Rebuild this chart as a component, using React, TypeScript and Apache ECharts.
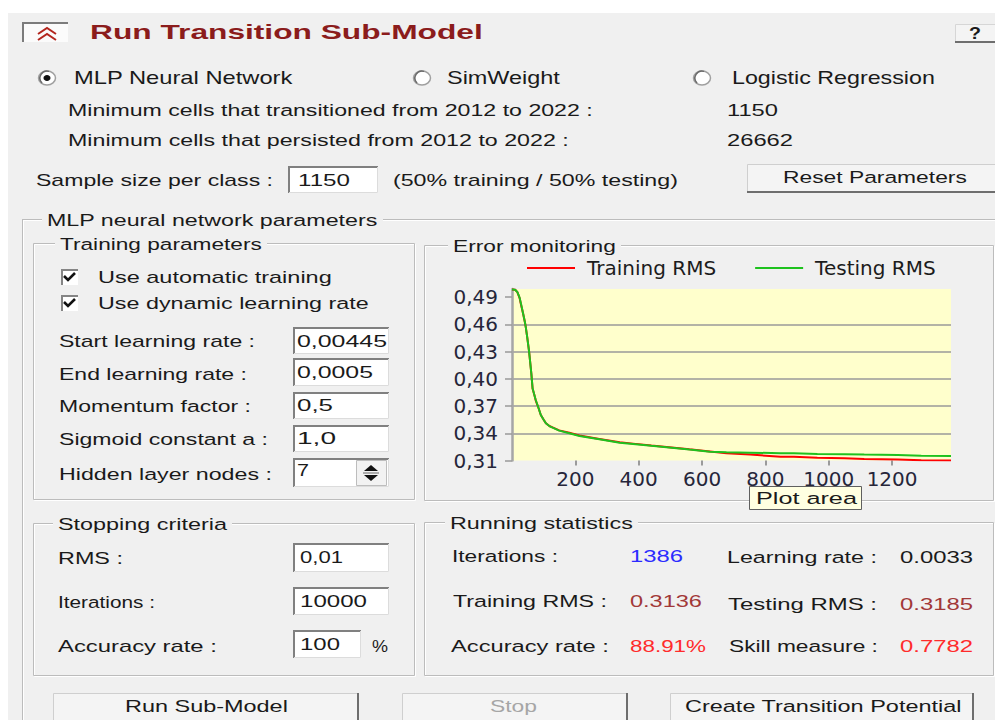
import React, { useEffect, useRef } from 'react';
import * as echarts from 'echarts';

// ---- chart data ----
const iterations = [0, 10, 17, 24, 28, 35, 41, 43, 48, 54, 61, 65, 70, 75, 84, 91, 100, 107, 118, 128, 149, 181, 213, 276, 340, 382, 440, 488, 560, 625, 677, 752, 848, 890, 964, 1050, 1112, 1218, 1292, 1386];
const trainingRMS = [0.4985, 0.4982, 0.4955, 0.489, 0.4825, 0.472, 0.462, 0.458, 0.446, 0.43, 0.406, 0.389, 0.383, 0.376, 0.3676, 0.3602, 0.355, 0.351, 0.348, 0.3465, 0.3432, 0.3405, 0.3375, 0.3338, 0.33, 0.3286, 0.3266, 0.325, 0.3223, 0.3199, 0.3179, 0.3165, 0.3142, 0.314, 0.3131, 0.3125, 0.3117, 0.3112, 0.3102, 0.3101];
const testingRMS = [0.4985, 0.4982, 0.4955, 0.4895, 0.4834, 0.472, 0.462, 0.458, 0.446, 0.43, 0.406, 0.3896, 0.383, 0.3767, 0.3676, 0.3602, 0.355, 0.351, 0.348, 0.3462, 0.3429, 0.34, 0.337, 0.3334, 0.3296, 0.3282, 0.3262, 0.3246, 0.322, 0.3197, 0.319, 0.3186, 0.3181, 0.3179, 0.3172, 0.3168, 0.3165, 0.3161, 0.3152, 0.315];
const seriesNames = ['Training RMS', 'Testing RMS'];
const seriesColors = ['#ff0000', '#1ec21e'];
const yTicks = [0.31, 0.34, 0.37, 0.4, 0.43, 0.46, 0.49];
const xTicks = [200, 400, 600, 800, 1000, 1200];
const xMax = 1386;
const yMin = 0.31;
const yMax = 0.499;

const BG = '#f0f0f0';
const UI_FONT = 'Liberation Sans';

let measureCtx: CanvasRenderingContext2D | null = null;
function measure(text: string, size: number, weight: string) {
  if (!measureCtx) measureCtx = document.createElement('canvas').getContext('2d');
  measureCtx!.font = `${weight} ${size}px "${UI_FONT}"`;
  return measureCtx!.measureText(text).width || 1;
}

type LOpt = { size?: number; color?: string; weight?: string; z?: number };
function label(text: string, x1: number, x2: number, cy: number, o: LOpt = {}) {
  const size = o.size ?? 17;
  const weight = o.weight ?? 'normal';
  const w = measure(text, size, weight);
  return {
    type: 'text',
    x: x1,
    y: cy,
    scaleX: (x2 - x1) / w,
    z: o.z ?? 5,
    silent: true,
    style: {
      text,
      fill: o.color ?? '#1a1a1a',
      fontSize: size,
      fontFamily: UI_FONT,
      fontWeight: weight,
      align: 'left',
      verticalAlign: 'middle',
      textAlign: 'left',
      textVerticalAlign: 'middle',
    },
  };
}

function rect(x: number, y: number, w: number, h: number, style: any, z = 0) {
  return { type: 'rect', shape: { x, y, width: w, height: h }, style, z, silent: true };
}
function line(x1: number, y1: number, x2: number, y2: number, stroke: string, lineWidth = 1, z = 1) {
  return { type: 'line', shape: { x1, y1, x2, y2 }, style: { stroke, lineWidth }, z, silent: true };
}
function poly(points: number[][], stroke: string, lineWidth = 1, z = 1) {
  return { type: 'polyline', shape: { points }, style: { stroke, lineWidth, fill: 'none' }, z, silent: true };
}

function groupBox(x1: number, y1: number, x2: number, y2: number, title: string, tx1: number, tx2: number) {
  return [
    rect(x1 + 1.5, y1 + 1.5, x2 - x1, y2 - y1, { fill: 'none', stroke: '#ffffff', lineWidth: 1 }, -6),
    rect(x1 + 0.5, y1 + 0.5, x2 - x1, y2 - y1, { fill: 'none', stroke: '#bcbcbc', lineWidth: 1 }, -5),
    rect(tx1 - 5, y1 - 10, tx2 - tx1 + 10, 20, { fill: BG }, -4),
    label(title, tx1, tx2, y1 + 1),
  ];
}

function inputBox(x1: number, y1: number, x2: number, y2: number) {
  return [
    rect(x1, y1, x2 - x1, y2 - y1, { fill: '#ffffff' }, 1),
    poly([[x1 + 1, y2], [x1 + 1, y1 + 1], [x2, y1 + 1]], '#808080', 2, 2),
    poly([[x1 + 1, y2 - 0.5], [x2 - 0.5, y2 - 0.5], [x2 - 0.5, y1 + 1]], '#dcdcdc', 1, 2),
  ];
}

function button(x1: number, y1: number, x2: number, y2: number, text: string, tx1: number, tx2: number, cy: number, color = '#1a1a1a') {
  return [
    rect(x1 + 0.5, y1 + 0.5, x2 - x1, y2 - y1, { fill: '#f4f4f4', stroke: '#cfcfcf', lineWidth: 1 }, 1),
    line(x2, y1, x2, y2, '#6e6e6e', 2, 2),
    line(x1, y2, x2, y2, '#6e6e6e', 2, 2),
    label(text, tx1, tx2, cy, { color }),
  ];
}

function checkbox(x: number, y: number) {
  return [
    rect(x, y, 17, 16, { fill: '#ffffff' }, 1),
    poly([[x + 1, y + 16], [x + 1, y + 1], [x + 17, y + 1]], '#858585', 2, 2),
    poly([[x + 3, y + 7], [x + 7, y + 11], [x + 14, y + 4]], '#111111', 2.6, 3),
  ];
}

function radio(cx: number, cy: number, selected: boolean) {
  const els: any[] = [
    { type: 'ellipse', shape: { cx, cy, rx: 8.5, ry: 7 }, style: { fill: '#ffffff', stroke: '#a0a0a0', lineWidth: 1.5 }, z: 1, silent: true },
    { type: 'arc', shape: { cx, cy, r: 7, startAngle: Math.PI * 0.75, endAngle: Math.PI * 1.6 }, style: { stroke: '#6a6a6a', lineWidth: 1.5, fill: 'none' }, z: 2, silent: true },
  ];
  if (selected) {
    els.push({ type: 'ellipse', shape: { cx, cy, rx: 3.5, ry: 3 }, style: { fill: '#111111' }, z: 3, silent: true });
  }
  return els;
}

function buildGraphics() {
  const g: any[] = [];
  // dialog background
  g.push(rect(8, 13, 995, 720, { fill: BG }, -10));

  // title bar
  g.push(rect(22, 22, 46, 20, { fill: '#fbfbfb' }, 1));
  g.push(poly([[23, 42], [23, 23], [68, 23]], '#7c7c7c', 2, 2));
  g.push(poly([[38, 34], [47, 28], [56, 34]], '#b3261e', 2, 3));
  g.push(poly([[38, 40], [47, 34], [56, 40]], '#b3261e', 2, 3));
  g.push(label('Run Transition Sub-Model', 90, 483, 32, { size: 20, weight: 'bold', color: '#8b1c1c' }));
  g.push(rect(955.5, 24.5, 45, 18, { fill: '#f4f4f4', stroke: '#d6d6d6', lineWidth: 1 }, 1));
  g.push(line(955, 42, 1000, 42, '#6e6e6e', 2, 2));
  g.push(label('?', 969, 981, 33, { size: 17, weight: 'bold' }));

  // model choice
  g.push(...radio(47, 78, true), ...radio(422, 78, false), ...radio(702, 78, false));
  g.push(label('MLP Neural Network', 74, 293, 78, { size: 18 }));
  g.push(label('SimWeight', 447, 560, 78, { size: 18 }));
  g.push(label('Logistic Regression', 732, 935, 78, { size: 18 }));

  g.push(label('Minimum cells that transitioned from 2012 to 2022 :', 68, 593, 110));
  g.push(label('1150', 727, 778, 110));
  g.push(label('Minimum cells that persisted from 2012 to 2022 :', 68, 569, 140));
  g.push(label('26662', 727, 793, 140));

  g.push(label('Sample size per class :', 36, 273, 180));
  g.push(...inputBox(288, 166, 378, 193));
  g.push(label('1150', 298, 350, 180));
  g.push(label('(50% training / 50% testing)', 393, 678, 180));
  g.push(...button(747, 164, 1000, 192, 'Reset Parameters', 783, 967, 177));

  // MLP group frame
  g.push(line(23, 220.5, 1000, 220.5, '#ffffff', 1, -6));
  g.push(line(23.5, 220, 23.5, 730, '#ffffff', 1, -6));
  g.push(line(22, 219.5, 1000, 219.5, '#bcbcbc', 1, -5));
  g.push(line(22.5, 219, 22.5, 730, '#bcbcbc', 1, -5));
  g.push(rect(42, 210, 341, 20, { fill: BG }, -4));
  g.push(label('MLP neural network parameters', 47, 378, 220));

  // Training parameters
  g.push(...groupBox(33, 243, 414, 499, 'Training parameters', 60, 262));
  g.push(...checkbox(61, 269), ...checkbox(61, 295));
  g.push(label('Use automatic training', 98, 332, 277));
  g.push(label('Use dynamic learning rate', 98, 369, 303));
  g.push(label('Start learning rate :', 59, 255, 341));
  g.push(...inputBox(293, 327, 389, 354));
  g.push(label('0,00445', 297, 387, 341));
  g.push(label('End learning rate :', 59, 247, 374));
  g.push(...inputBox(293, 358, 389, 386));
  g.push(label('0,0005', 297, 373, 372));
  g.push(label('Momentum factor :', 59, 251, 406));
  g.push(...inputBox(293, 392, 389, 419));
  g.push(label('0,5', 297, 333, 405));
  g.push(label('Sigmoid constant a :', 59, 268, 439));
  g.push(...inputBox(293, 425, 389, 452));
  g.push(label('1,0', 297, 336, 438));
  g.push(label('Hidden layer nodes :', 59, 272, 474));
  g.push(...inputBox(293, 458, 389, 487));
  g.push(label('7', 297, 309, 470));
  g.push(rect(356.5, 460.5, 30, 25, { fill: '#f2f2f2', stroke: '#bdbdbd', lineWidth: 1 }, 3));
  g.push({ type: 'polygon', shape: { points: [[371, 465], [364, 471], [378, 471]] }, style: { fill: '#111' }, z: 4, silent: true });
  g.push({ type: 'polygon', shape: { points: [[364, 475], [378, 475], [371, 481]] }, style: { fill: '#111' }, z: 4, silent: true });
  g.push(line(363, 473, 379, 473, '#666', 1, 4));

  // Error monitoring frame
  g.push(...groupBox(424, 245, 993, 500, 'Error monitoring', 453, 616));

  // Stopping criteria
  g.push(...groupBox(33, 523, 414, 675, 'Stopping criteria', 58, 227));
  g.push(label('RMS :', 58, 123, 558));
  g.push(...inputBox(293, 543, 389, 572));
  g.push(label('0,01', 300, 343, 557));
  g.push(label('Iterations :', 58, 155, 602));
  g.push(...inputBox(293, 587, 389, 615));
  g.push(label('10000', 300, 367, 601));
  g.push(label('Accuracy rate :', 58, 217, 646));
  g.push(...inputBox(293, 630, 361, 658));
  g.push(label('100', 300, 340, 644));
  g.push(label('%', 372, 388, 646));

  // Running statistics
  g.push(...groupBox(424, 522, 993, 675, 'Running statistics', 450, 633));
  g.push(label('Iterations :', 452, 558, 556));
  g.push(label('1386', 630, 683, 556, { color: '#2b2bff' }));
  g.push(label('Learning rate :', 727, 877, 557));
  g.push(label('0.0033', 900, 973, 557));
  g.push(label('Training RMS :', 453, 607, 601));
  g.push(label('0.3136', 630, 702, 601, { color: '#a23838' }));
  g.push(label('Testing RMS :', 728, 877, 604));
  g.push(label('0.3185', 900, 973, 604, { color: '#a23838' }));
  g.push(label('Accuracy rate :', 451, 609, 646));
  g.push(label('88.91%', 630, 706, 646, { color: '#ff2b2b' }));
  g.push(label('Skill measure :', 729, 878, 646));
  g.push(label('0.7782', 900, 973, 646, { color: '#ff2b2b' }));

  // bottom buttons
  g.push(...button(53, 693, 358, 730, 'Run Sub-Model', 125, 288, 706));
  g.push(...button(402, 693, 627, 730, 'Stop', 490, 537, 706, '#a6a6a6'));
  g.push(...button(670, 693, 973, 730, 'Create Transition Potential', 685, 962, 706));

  // "Plot area" hover tip
  g.push(rect(749.5, 486.5, 112, 23, { fill: '#ffffe1', stroke: '#5f5f5f', lineWidth: 1 }, 50));
  g.push(label('Plot area', 756, 857, 498, { z: 51 }));
  return g;
}

export default function App() {
  const ref = useRef<HTMLDivElement>(null);
  useEffect(() => {
    const chart = echarts.init(ref.current!, null, { renderer: 'svg', width: 995, height: 720 });
    const axisText = { color: '#26263a', fontSize: 20, fontFamily: 'DejaVu Sans' };
    const option: any = {
      animation: false,
      backgroundColor: '#ffffff',
      color: seriesColors,
      textStyle: { fontFamily: 'DejaVu Sans' },
      grid: { left: 512, top: 289, width: 439, height: 171.5, show: true, backgroundColor: '#ffffcc', borderWidth: 0 },
      legend: {
        data: seriesNames,
        left: 522,
        top: 253,
        icon: 'rect',
        itemWidth: 48,
        itemHeight: 2,
        itemGap: 39,
        textStyle: { fontSize: 20, fontFamily: 'DejaVu Sans', color: '#1c1c1c', padding: [0, 0, 0, 7] },
      },
      xAxis: {
        type: 'value',
        min: 0,
        max: xMax,
        axisLine: { show: false },
        axisTick: { show: true, length: 5, customValues: xTicks, lineStyle: { color: '#9a9a9a', width: 2 } },
        axisLabel: { ...axisText, customValues: xTicks, margin: 8, formatter: (v: number) => String(v) },
        splitLine: { show: false },
      },
      yAxis: {
        type: 'value',
        min: yMin,
        max: yMax,
        axisLine: { show: true, lineStyle: { color: '#a6a6a6', width: 2.5 } },
        axisTick: { show: true, length: 7, customValues: yTicks, lineStyle: { color: '#9a9a9a', width: 1.5 } },
        axisLabel: { ...axisText, customValues: yTicks, margin: 14, formatter: (v: number) => v.toFixed(2).replace('.', ',') },
        splitLine: { show: true, showMinLine: false, showMaxLine: false, lineStyle: { color: '#9a9a9a', width: 1.5 } },
      },
      series: [
        {
          name: seriesNames[0],
          type: 'line',
          symbol: 'none',
          lineStyle: { width: 2, color: seriesColors[0] },
          data: iterations.map((x, i) => [x, trainingRMS[i]]),
          z: 3,
        },
        {
          name: seriesNames[1],
          type: 'line',
          symbol: 'none',
          lineStyle: { width: 2, color: seriesColors[1] },
          data: iterations.map((x, i) => [x, testingRMS[i]]),
          z: 4,
        },
      ],
      graphic: { elements: buildGraphics() },
    };
    chart.setOption(option);
    return () => chart.dispose();
  }, []);
  return <div ref={ref} style={{ position: 'fixed', left: 0, top: 0, width: 995, height: 720, background: '#fff' }} />;
}
